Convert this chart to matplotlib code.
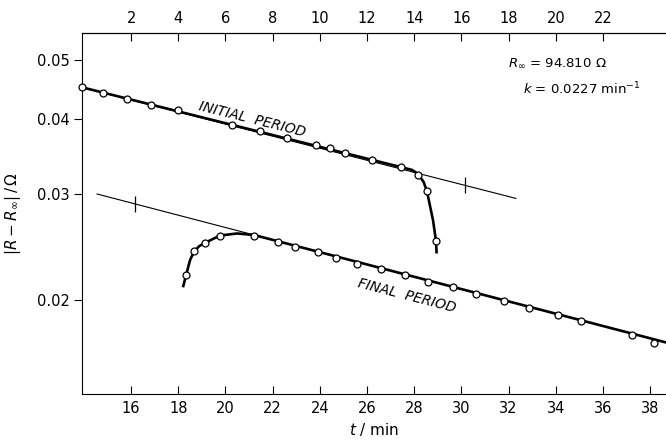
import numpy as np
import matplotlib
matplotlib.use("Agg")
import matplotlib.pyplot as plt

plt.rcParams['font.family'] = ['DejaVu Sans']
plt.rcParams['mathtext.fontset'] = 'dejavusans'

# initial period (measured points, bottom time axis)
t_init = [13.92, 14.81, 15.83, 16.85, 17.99, 20.28, 21.47, 22.61, 23.84, 24.43,
          25.07, 26.21, 27.44, 28.16, 28.54, 28.92]
r_init = [0.0451, 0.0442, 0.0432, 0.0422, 0.0413, 0.0391, 0.0382, 0.0372, 0.0362, 0.0358,
          0.0351, 0.0341, 0.0333, 0.0323, 0.0303, 0.0251]
# hand-drawn curve through the initial period
t_init_curve = [13.92, 27.9, 28.16, 28.4, 28.54, 28.8, 28.92, 28.95]
r_init_curve = [0.0451, 0.0329, 0.0324, 0.0314, 0.0303, 0.0271, 0.0251, 0.0239]
# fitted straight line, initial period
t_init_fit = [13.92, 32.31]
r_init_fit = [0.0451, 0.0295]
t_init_mark = 30.15

# final period
t_fin = [18.33, 18.67, 19.14, 19.77, 21.21, 22.23, 22.95, 23.92, 24.69, 25.58,
         26.59, 27.61, 28.58, 29.64, 30.62, 31.81, 32.86, 34.09, 35.07, 37.23, 38.16]
r_fin = [0.0220, 0.0241, 0.0249, 0.0256, 0.0256, 0.0250, 0.0245, 0.0240, 0.0235, 0.0230,
         0.0225, 0.0220, 0.0214, 0.0210, 0.0205, 0.0199, 0.0194, 0.0189, 0.0185, 0.0175, 0.0170]
t_fin_curve = [18.2, 18.33, 18.5, 18.67, 18.9, 19.14, 19.77, 20.5, 21.21, 38.7]
r_fin_curve = [0.0210, 0.0220, 0.0233, 0.0241, 0.0246, 0.0249, 0.0256, 0.0258, 0.02565, 0.0170]
t_fin_fit = [14.56, 38.7]
r_fin_fit = [0.0300, 0.0170]
t_fin_mark = 16.17

bottom_ticks = [16, 18, 20, 22, 24, 26, 28, 30, 32, 34, 36, 38]
top_ticks = [2, 4, 6, 8, 10, 12, 14, 16, 18, 20, 22]
y_ticks = [0.02, 0.03, 0.04, 0.05]
offset = 14.0


def fit_value(t, ts, rs):
    f = (t - ts[0]) / (ts[1] - ts[0])
    return rs[0] * (rs[1] / rs[0]) ** f


fig = plt.figure(figsize=(6.66, 4.42), dpi=100)
ax = fig.add_axes([0.1231, 0.1086, 0.8769, 0.8167])
ax.set_yscale('log')

ax.plot(t_init_fit, r_init_fit, color='black', lw=0.8)
ax.plot(t_fin_fit, r_fin_fit, color='black', lw=0.8)
ax.plot(t_init_curve, r_init_curve, color='black', lw=1.9, solid_capstyle='butt')
ax.plot(t_fin_curve, r_fin_curve, color='black', lw=1.9, solid_capstyle='butt')
ax.plot(t_init, r_init, 'o', ms=5, mfc='white', mec='black', mew=0.9, zorder=3,
        clip_on=False)
ax.plot(t_fin, r_fin, 'o', ms=5, mfc='white', mec='black', mew=0.9, zorder=3)
ax.plot([t_init_mark], [fit_value(t_init_mark, t_init_fit, r_init_fit)], '|',
        color='black', ms=12, mew=0.9)
ax.plot([t_fin_mark], [fit_value(t_fin_mark, t_fin_fit, r_fin_fit)], '|',
        color='black', ms=12, mew=0.9)

ax.set_xlim(13.92, 38.67)
ax.set_ylim(0.01397, 0.0555)
ax.set_xticks(bottom_ticks)
ax.set_yticks(y_ticks)
ax.set_yticklabels(['0.02', '0.03', '0.04', '0.05'])
ax.yaxis.set_minor_locator(matplotlib.ticker.NullLocator())
ax.tick_params(axis='x', direction='in', length=6, labelsize=10.5, pad=5)
ax.tick_params(axis='y', direction='out', length=6, labelsize=10.5, pad=3)
ax.spines['right'].set_visible(False)

top = ax.secondary_xaxis('top', functions=(lambda t: t - offset, lambda s: s + offset))
top.set_xticks(top_ticks)
top.tick_params(direction='in', length=6, labelsize=10.5, pad=5)

ax.set_xlabel(r'$t$ / min', fontsize=11, labelpad=4)
ax.set_ylabel(r'$|R - R_{\infty}|\,/\,\Omega$', fontsize=11, labelpad=10)

ax.text(0.292, 0.762, 'INITIAL  PERIOD', transform=ax.transAxes, rotation=-14,
        ha='center', va='center', fontsize=10, style='italic')
ax.text(0.556, 0.272, 'FINAL  PERIOD', transform=ax.transAxes, rotation=-14.5,
        ha='center', va='center', fontsize=10, style='italic')
ax.text(0.73, 0.916, r'$R_{\infty}$ = 94.810 $\Omega$', transform=ax.transAxes,
        ha='left', va='center', fontsize=9.5)
ax.text(0.755, 0.846, r'$k$ = 0.0227 min$^{-1}$', transform=ax.transAxes,
        ha='left', va='center', fontsize=9.5)

fig.savefig('out.png', dpi=100)
